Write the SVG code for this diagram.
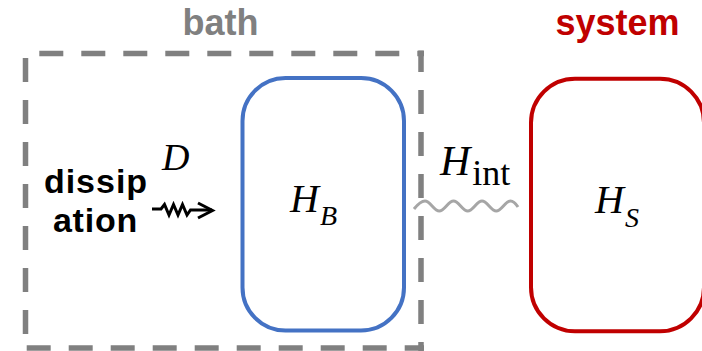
<svg xmlns="http://www.w3.org/2000/svg" width="702" height="351" viewBox="0 0 702 351">
<style>
.dash{stroke:#808080;stroke-width:5.5;stroke-dasharray:24 18;fill:none}
.lbl{font-family:"Liberation Sans",Arial,sans-serif;font-weight:bold;text-anchor:middle}
.math{font-family:"Liberation Serif","Times New Roman",serif;font-style:italic;fill:#000}
.up{font-style:normal}
</style>
<rect width="702" height="351" fill="#fff"/>
<g id="bath">
  <line class="dash" x1="23" y1="53.5" x2="424" y2="53.5" stroke-dashoffset="25.7"/>
  <line class="dash" x1="25.5" y1="50.5" x2="25.5" y2="351" stroke-dashoffset="34.5"/>
  <line class="dash" x1="26.7" y1="348" x2="424" y2="348"/>
  <line class="dash" x1="421" y1="50.5" x2="421" y2="351" stroke-dashoffset="2.5"/>
  <text class="lbl" x="220.5" y="35" font-size="36" fill="#808080">bath</text>
  <text class="lbl" x="96" y="192.5" font-size="34" letter-spacing="1" fill="#000">dissip</text>
  <text class="lbl" x="95.5" y="232" font-size="34" letter-spacing="0.8" fill="#000">ation</text>
</g>
<g id="HB">
  <rect x="242.5" y="78" width="161.5" height="252.5" rx="43" ry="43" fill="none" stroke="#4472C4" stroke-width="4"/>
  <text class="math" x="290" y="212" font-size="40">H<tspan font-size="28" dy="13" dx="1">B</tspan></text>
</g>
<g id="HS">
  <rect x="531" y="78.7" width="173" height="252.6" rx="44" ry="44" fill="none" stroke="#C00000" stroke-width="4"/>
  <text class="lbl" x="617.5" y="35" font-size="36" fill="#C00000">system</text>
  <text class="math" x="595" y="213" font-size="40">H<tspan font-size="28" dy="14" dx="1">S</tspan></text>
</g>
<g id="connectors">
  <g id="dissipation">
    <path d="M152,209 H161 L164.5,204.5 L169,215 L173.5,204.5 L178,215 L182.5,204.5 L187,215 L190.5,210 H212" fill="none" stroke="#000" stroke-width="3" stroke-linejoin="miter"/>
    <path d="M198,203 L212.5,210.5 L198,218" fill="none" stroke="#000" stroke-width="3"/>
    <text class="math" x="162" y="170" font-size="38">D</text>
  </g>
  <g id="interaction">
    <path d="M414,209 C418,204 421,201 425,201 C430.2,201 434,211 439.25,211 C444.5,211 448.3,201 453.5,201 C458.7,201 462.5,211 467.75,211 C473,211 476.8,201 482,201 C487.2,201 491,211 496.25,211 C501.5,211 505.3,201 510.5,201 C514,201 516,204 518,207" fill="none" stroke="#A6A6A6" stroke-width="3"/>
    <text class="math" x="440" y="175" font-size="42">H<tspan class="up" font-size="36" dy="10" dx="2">int</tspan></text>
  </g>
</g>
</svg>
